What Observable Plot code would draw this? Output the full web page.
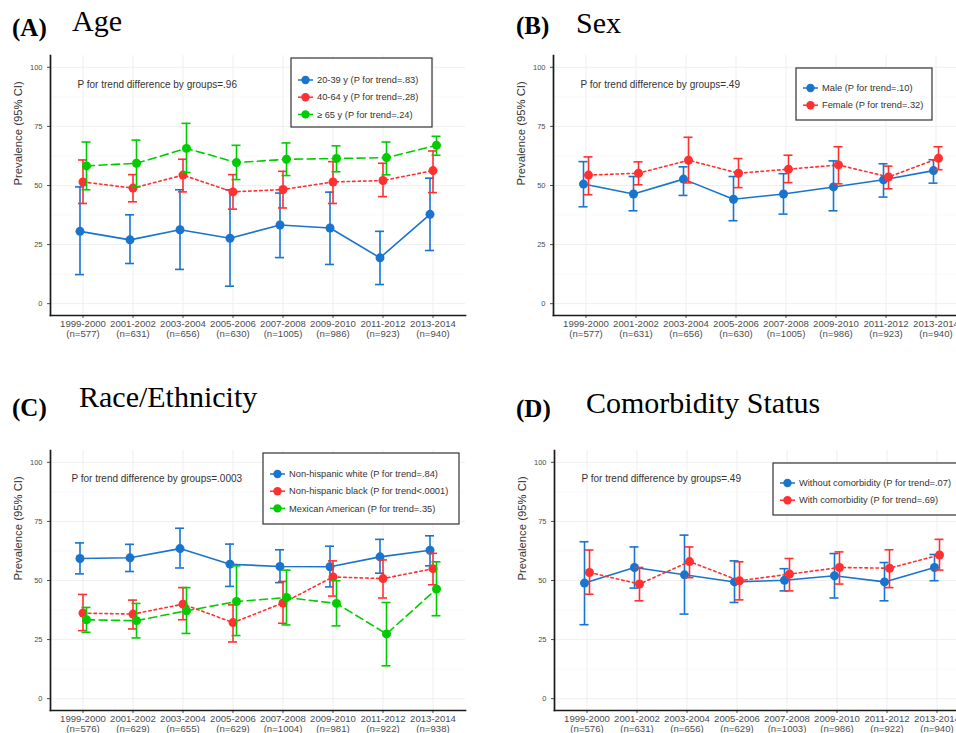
<!DOCTYPE html>
<html><head><meta charset="utf-8">
<script src="https://cdn.jsdelivr.net/npm/d3@7"></script>
<script src="https://cdn.jsdelivr.net/npm/@observablehq/plot@0.6"></script>
<style>
html,body{margin:0;padding:0;background:#fff;}
#root{position:relative;width:956px;height:733px;overflow:hidden;font-family:"Liberation Sans",Arial,sans-serif;}
.panel{position:absolute;width:480px;height:300px;}
.panel svg{overflow:visible;}
#overlay{position:absolute;left:0;top:0;}
</style></head>
<body><div id="root"></div>
<script>
// ---------- data ----------
const periods = ["1999-2000","2001-2002","2003-2004","2005-2006","2007-2008","2009-2010","2011-2012","2013-2014"];
const yTicks = [0, 25, 50, 75, 100];
const yMinor = [12.5, 37.5, 62.5, 87.5];

const nAge   = [577, 631, 656, 630, 1005, 986, 923, 940];
const nSex   = [577, 631, 656, 630, 1005, 986, 923, 940];
const nRace  = [576, 629, 655, 629, 1004, 981, 922, 938];
const nComor = [576, 631, 656, 629, 1003, 986, 922, 940];

// (A) Age
const age2039    = [30.6, 27.0, 31.3, 27.7, 33.3, 32.0, 19.4, 37.8];
const age2039Lo  = [12.3, 17.0, 14.5,  7.4, 19.5, 16.6,  8.1, 22.5];
const age2039Hi  = [49.4, 37.6, 48.2, 48.2, 46.8, 47.2, 30.6, 53.1];
const age4064    = [51.5, 48.9, 54.4, 47.3, 48.3, 51.5, 52.1, 56.3];
const age4064Lo  = [42.4, 43.1, 47.3, 40.0, 40.5, 42.4, 45.3, 47.0];
const age4064Hi  = [60.8, 54.6, 61.1, 54.6, 56.0, 60.1, 59.4, 64.6];
const age65      = [58.3, 59.4, 65.7, 59.7, 61.1, 61.4, 61.8, 67.0];
const age65Lo    = [48.2, 49.4, 55.5, 52.5, 54.2, 55.8, 54.5, 62.8];
const age65Hi    = [68.4, 69.2, 76.3, 67.0, 68.0, 66.8, 68.4, 70.8];

// (B) Sex
const male       = [50.6, 46.4, 52.7, 44.2, 46.4, 49.4, 52.4, 56.3];
const maleLo     = [41.0, 39.3, 45.8, 35.1, 37.9, 39.3, 45.1, 51.0];
const maleHi     = [60.1, 53.8, 57.9, 53.8, 55.0, 60.4, 59.2, 60.9];
const female     = [54.4, 55.2, 60.7, 55.2, 56.9, 58.7, 53.6, 61.5];
const femaleLo   = [46.1, 50.3, 51.1, 49.1, 51.2, 50.7, 48.6, 56.7];
const femaleHi   = [62.1, 60.0, 70.4, 61.4, 62.8, 66.4, 58.2, 66.4];

// (C) Race/Ethnicity
const white      = [59.3, 59.6, 63.5, 56.9, 55.9, 55.8, 60.0, 62.8];
const whiteLo    = [52.8, 53.8, 55.3, 47.5, 49.1, 47.3, 53.1, 56.2];
const whiteHi    = [65.9, 65.3, 72.1, 65.4, 63.0, 64.5, 67.4, 68.9];
const black      = [36.2, 35.8, 40.0, 32.2, 40.5, 51.5, 50.8, 55.0];
const blackLo    = [28.8, 29.5, 33.4, 24.0, 31.9, 43.4, 42.6, 48.2];
const blackHi    = [44.1, 41.7, 47.0, 39.7, 49.6, 58.3, 58.7, 61.5];
const mexican    = [33.4, 33.0, 37.2, 41.1, 42.8, 40.3, 27.4, 46.4];
const mexicanLo  = [28.1, 25.7, 27.6, 26.7, 31.2, 30.8, 13.9, 35.1];
const mexicanHi  = [38.6, 40.3, 47.0, 56.2, 54.4, 49.9, 40.7, 57.9];

// (D) Comorbidity
const without    = [48.9, 55.5, 52.4, 49.4, 50.1, 52.0, 49.4, 55.5];
const withoutLo  = [31.3, 46.8, 35.8, 40.7, 45.6, 42.6, 41.4, 49.9];
const withoutHi  = [66.4, 64.2, 69.2, 58.3, 55.0, 61.4, 57.6, 61.0];
const withC      = [53.4, 48.5, 58.0, 49.9, 52.7, 55.5, 55.2, 60.8];
const withCLo    = [44.2, 41.4, 51.2, 41.8, 45.6, 48.5, 47.0, 54.4];
const withCHi    = [62.9, 55.5, 64.2, 57.9, 59.3, 62.1, 63.0, 67.4];

const legendAge   = ["20-39 y (P for trend=.83)", "40-64 y (P for trend=.28)", "\u2265 65 y (P for trend=.24)"];
const legendSex   = ["Male (P for trend=.10)", "Female (P for trend=.32)"];
const legendRace  = ["Non-hispanic white (P for trend=.84)", "Non-hispanic black (P for trend<.0001)", "Mexican American (P for trend=.35)"];
const legendComor = ["Without comorbidity (P for trend=.07)", "With comorbidity (P for trend=.69)"];

const noteAge   = "P for trend difference by groups=.96";
const noteSex   = "P for trend difference by groups=.49";
const noteRace  = "P for trend difference by groups=.0003";
const noteComor = "P for trend difference by groups=.49";

// ---------- styling ----------
const blue = "#1874CD", red = "#FF3030", green = "#00CC00";
const solid = null, dotted = "2.5,3", dashed = "8,4.5";
const FONT = '"Liberation Sans", Arial, sans-serif';

const root = document.getElementById("root");

function rowsOf(v, lo, hi) {
  return periods.map((p, i) => ({period: p, val: v[i], lo: lo[i], hi: hi[i]}));
}

function makePanel(cfg) {
  const marks = [
    Plot.gridX({stroke: "#efefef", strokeOpacity: 1, strokeWidth: 1}),
    Plot.gridY(yMinor, {stroke: "#f5f5f5", strokeOpacity: 1, strokeWidth: 0.6}),
    Plot.gridY(yTicks, {stroke: "#efefef", strokeOpacity: 1, strokeWidth: 1}),
    Plot.axisY(yTicks, {tickSize: 3, tickPadding: 5, fontSize: 7.5, color: "#4d4d4d", label: null}),
    Plot.axisX({tickSize: 3, tickPadding: 2, fontSize: 9.6, color: "#4d4d4d", label: null,
      tickFormat: d => `${d}\n(n=${cfg.n[periods.indexOf(d)]})`}),
    Plot.text(["Prevalence (95% CI)"], {text: d => d, frameAnchor: "left", dx: -32, rotate: -90, fontSize: 11.3, fill: "#333"}),
    Plot.text([cfg.note], {text: d => d, frameAnchor: "top-left", dx: cfg.noteDx, dy: cfg.noteDy, textAnchor: "start", fontSize: 10, fill: "#333"})
  ];
  for (const s of cfg.series) {
    const rows = rowsOf(s.val, s.lo, s.hi);
    marks.push(Plot.ruleX(rows, {x: "period", y1: "lo", y2: "hi", stroke: s.color, strokeWidth: 1.6, dx: s.dx}));
    marks.push(Plot.tickY(rows, {x: "period", y: "lo", stroke: s.color, strokeWidth: 1.6, dx: s.dx}));
    marks.push(Plot.tickY(rows, {x: "period", y: "hi", stroke: s.color, strokeWidth: 1.6, dx: s.dx}));
    marks.push(Plot.line(rows, {x: "period", y: "val", stroke: s.color, strokeWidth: 1.6, strokeDasharray: s.dash, dx: s.dx}));
    marks.push(Plot.dot(rows, {x: "period", y: "val", r: 4.5, fill: s.color, dx: s.dx}));
  }
  marks.push(Plot.frame({anchor: "left", stroke: "#1a1a1a", strokeWidth: 1.7}));
  marks.push(Plot.frame({anchor: "bottom", stroke: "#1a1a1a", strokeWidth: 1.7}));

  const chart = Plot.plot({
    width: 480, height: 300,
    marginLeft: 50, marginRight: 15, marginTop: 5, marginBottom: 35,
    style: {fontFamily: FONT, background: "transparent", overflow: "visible"},
    x: {type: "band", domain: periods, paddingInner: 0.822, paddingOuter: 0.511, align: 0.5},
    y: {domain: [-5, 105]},
    marks
  });
  const div = document.createElement("div");
  div.className = "panel";
  div.style.left = cfg.left + "px";
  div.style.top = cfg.top + "px";
  div.appendChild(chart);
  root.appendChild(div);
}

makePanel({left: 0, top: 50, n: nAge, note: noteAge, noteDx: 27, noteDy: 25, series: [
  {val: age2039, lo: age2039Lo, hi: age2039Hi, color: blue,  dash: solid,  dx: -3},
  {val: age4064, lo: age4064Lo, hi: age4064Hi, color: red,   dash: dotted, dx: 0},
  {val: age65,   lo: age65Lo,   hi: age65Hi,   color: green, dash: dashed, dx: 3.5}
]});
makePanel({left: 503, top: 50, n: nSex, note: noteSex, noteDx: 27, noteDy: 25, series: [
  {val: male,   lo: maleLo,   hi: maleHi,   color: blue, dash: solid,  dx: -2.5},
  {val: female, lo: femaleLo, hi: femaleHi, color: red,  dash: dotted, dx: 2.5}
]});
makePanel({left: 0, top: 445, n: nRace, note: noteRace, noteDx: 21, noteDy: 24, series: [
  {val: white,   lo: whiteLo,   hi: whiteHi,   color: blue,  dash: solid,  dx: -3},
  {val: black,   lo: blackLo,   hi: blackHi,   color: red,   dash: dotted, dx: 0},
  {val: mexican, lo: mexicanLo, hi: mexicanHi, color: green, dash: dashed, dx: 3.5}
]});
makePanel({left: 504, top: 445, n: nComor, note: noteComor, noteDx: 27, noteDy: 24, series: [
  {val: without, lo: withoutLo, hi: withoutHi, color: blue, dash: solid,  dx: -2.5},
  {val: withC,   lo: withCLo,   hi: withCHi,   color: red,  dash: dotted, dx: 2.5}
]});

// ---------- titles & legends (overlay) ----------
const svg = d3.select(root).append("svg").attr("id", "overlay").attr("width", 956).attr("height", 733);
const serif = '"Liberation Serif", "Times New Roman", serif';
const titles = [
  {t: "(A)", x: 12, y: 36, bold: true, size: 25},
  {t: "Age", x: 72, y: 31, bold: false, size: 30},
  {t: "(B)", x: 516, y: 33.5, bold: true, size: 25},
  {t: "Sex", x: 576, y: 33, bold: false, size: 30},
  {t: "(C)", x: 12, y: 416, bold: true, size: 25},
  {t: "Race/Ethnicity", x: 79, y: 407, bold: false, size: 30},
  {t: "(D)", x: 516, y: 417, bold: true, size: 25},
  {t: "Comorbidity Status", x: 586, y: 413, bold: false, size: 30}
];
for (const d of titles) {
  svg.append("text").attr("x", d.x).attr("y", d.y).attr("font-family", serif)
    .attr("font-size", d.size).attr("font-weight", d.bold ? "bold" : "normal").attr("fill", "#000").text(d.t);
}

function legend(box, labels, colors) {
  const g = svg.append("g");
  g.append("rect").attr("x", box.x).attr("y", box.y).attr("width", box.w).attr("height", box.h)
    .attr("fill", "#fff").attr("stroke", "#333").attr("stroke-width", 1.2);
  labels.forEach((lab, i) => {
    const cy = box.y + box.first + i * 17.2;
    g.append("line").attr("x1", box.x + 7).attr("x2", box.x + 22).attr("y1", cy).attr("y2", cy)
      .attr("stroke", colors[i]).attr("stroke-width", 1.5);
    g.append("circle").attr("cx", box.x + 14.5).attr("cy", cy).attr("r", 4.2).attr("fill", colors[i]);
    g.append("text").attr("x", box.x + 26).attr("y", cy).attr("dy", "0.35em")
      .attr("font-family", FONT).attr("font-size", 9.3).attr("fill", "#333").text(lab);
  });
}
legend({x: 291, y: 58, w: 141, h: 69, first: 22}, legendAge, [blue, red, green]);
legend({x: 796, y: 68, w: 136, h: 52, first: 20}, legendSex, [blue, red]);
legend({x: 263, y: 453, w: 196, h: 71, first: 21}, legendRace, [blue, red, green]);
legend({x: 773, y: 463, w: 192, h: 52, first: 20}, legendComor, [blue, red]);
</script>
</body></html>
